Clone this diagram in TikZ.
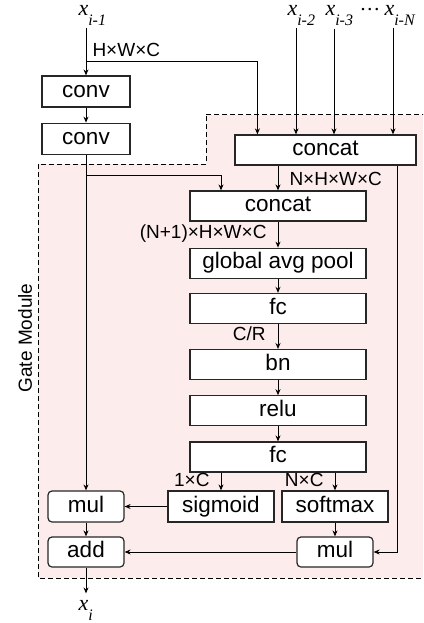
\documentclass[tikz,border=0pt]{standalone}
\usepackage{fontspec}
\setmainfont{Liberation Serif}
\setsansfont{Liberation Sans}
\usetikzlibrary{positioning,arrows.meta}

\definecolor{gatefill}{RGB}{253,236,236}
\newcommand{\xvar}[1]{{\fontsize{22}{22}\selectfont\itshape x}\raisebox{-10pt}{\fontsize{16}{16}\selectfont\itshape #1}}

\begin{document}
\begin{tikzpicture}[x=1pt,y=-1pt,>={Stealth[length=6pt,width=5pt]},line width=1pt,
    blk/.style={draw=black!85,line width=1.2pt,fill=white,font=\sffamily\fontsize{22.5}{22.5}\selectfont,
      minimum height=30pt,inner sep=0pt,text height=16pt,text depth=4.5pt},
    rblk/.style={blk,rounded corners=4pt,minimum width=76pt},
    dim/.style={font=\sffamily\fontsize{19}{19}\selectfont,inner sep=0pt},
    var/.style={inner sep=0pt}]
        \useasboundingbox (0,0) rectangle (423,623);
        \clip (0,0) rectangle (423,623);

        % Gate module region
        \draw[dash pattern=on 5pt off 3pt,fill=gatefill] (206,115) -- (430,115) -- (430,578) -- (38,578) -- (38,164) -- (206,164) -- cycle;
        \node[dim,rotate=90] (gatelbl) at (25,338) {Gate Module};

        % Inputs
        \node[var,anchor=base west] (xa) at (78,16) {\xvar{i-1}};
        \node[var,anchor=base west] (xb) at (287,16) {\xvar{i-2}};
        \node[var,anchor=base west] (xc) at (325,16) {\xvar{i-3}};
        \node[var,anchor=base west] (dots) at (359,17) {\fontsize{21}{21}\selectfont ···};
        \node[var,anchor=base west] (xn) at (384,16) {\xvar{i-N}};

        % Nodes
        \node[blk,minimum width=88pt,minimum height=31pt] (conv1) at (86,91.5) {conv};
        \node[blk,minimum width=88pt,minimum height=31pt,below=15pt of conv1] (conv2) {conv};
        \node[blk,minimum width=181pt] (concat1) at (325.5,150) {concat};
        \node[blk,minimum width=176pt] (concat2) at (278,206) {concat};
        \node[blk,minimum width=176pt,below=26pt of concat2] (gap) {global avg pool};
        \node[blk,minimum width=176pt,below=14pt of gap] (fc1) {fc};
        \node[blk,minimum width=176pt,below=25pt of fc1] (bn) {bn};
        \node[blk,minimum width=176pt,below=15pt of bn] (relu) {relu};
        \node[blk,minimum width=176pt,below=15pt of relu] (fc2) {fc};
        \node[blk,minimum width=106pt,minimum height=31pt] (sigmoid) at (221,506.5) {sigmoid};
        \node[blk,minimum width=106pt,minimum height=31pt] (softmax) at (335,506.5) {softmax};
        \node[rblk,minimum height=31pt] (mul1) at (86,506.5) {mul};
        \node[rblk] (add) at (86,552) {add};
        \node[rblk] (mul2) at (335,552) {mul};

        % Output
        \node[var,anchor=base west] (xi) at (78,610) {\xvar{i}};

        % Connections
        \coordinate (split1) at (86,62);
        \coordinate (split2) at (86,175);
        \draw[->,shorten <=2pt] (xa.south -| conv1.north) -- (conv1.north);
        \draw[->] (split1) -| ([xshift=23pt]concat1.north west);
        \draw[->,shorten <=2pt] ([xshift=9pt]xb.south west) -- ([xshift=9pt]xb.south west |- concat1.north);
        \draw[->,shorten <=2pt] ([xshift=9pt]xc.south west) -- ([xshift=9pt]xc.south west |- concat1.north);
        \draw[->,shorten <=2pt] ([xshift=9pt]xn.south west) -- ([xshift=9pt]xn.south west |- concat1.north);
        \draw[->] (conv1) -- (conv2);
        \draw[->] (conv2) -- (mul1);
        \draw[->] (split2) -| (concat2.north -| sigmoid.north);
        \draw[->] (concat1.south -| concat2.north) -- (concat2.north);
        \draw[->] (concat2) -- (gap);
        \draw[->] (gap) -- (fc1);
        \draw[->] (fc1) -- (bn);
        \draw[->] (bn) -- (relu);
        \draw[->] (relu) -- (fc2);
        \draw[->] (fc2.south -| sigmoid.north) -- (sigmoid.north);
        \draw[->] (fc2.south -| softmax.north) -- (softmax.north);
        \draw[->] (sigmoid) -- (mul1);
        \draw[->] (softmax) -- (mul2);
        \draw[->] (mul1) -- (add);
        \draw[->] (mul2) -- (add);
        \draw[->] ([xshift=-19pt]concat1.south east) |- (mul2.east);
        \draw[->,shorten >=6pt] (add.south) -- (add.south |- xi.north);

        % Labels
        \node[dim,anchor=west] (hwc) at (92,50) {H×W×C};
        \node[dim,anchor=west] (nhwc) at (289,179) {N×H×W×C};
        \node[dim,anchor=east] (n1hwc) at (267,234) {(N+1)×H×W×C};
        \node[dim,anchor=east] (cr) at (266,334) {C/R};
        \node[dim,anchor=east] (onec) at (210,480) {1×C};
        \node[dim,anchor=east] (nc) at (324,480) {N×C};
    \end{tikzpicture}
\end{document}
